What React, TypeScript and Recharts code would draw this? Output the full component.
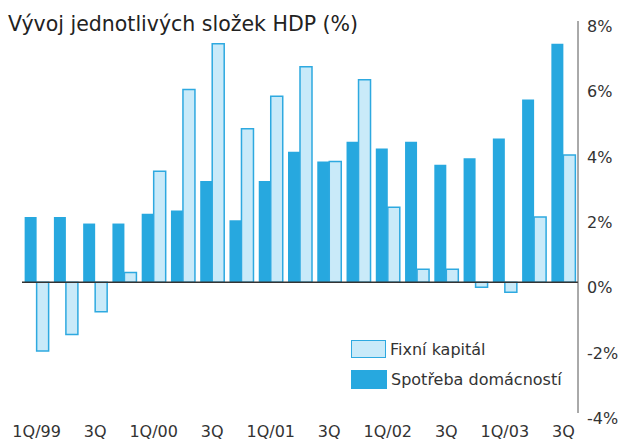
import React from "react";
import { BarChart, Bar, XAxis, YAxis, ReferenceLine, Legend } from "recharts";

const quarters = [
  "1Q/99", "2Q/99", "3Q/99", "4Q/99",
  "1Q/00", "2Q/00", "3Q/00", "4Q/00",
  "1Q/01", "2Q/01", "3Q/01", "4Q/01",
  "1Q/02", "2Q/02", "3Q/02", "4Q/02",
  "1Q/03", "2Q/03", "3Q/03",
];
const quarterLabels = [
  "1Q/99", "", "3Q", "",
  "1Q/00", "", "3Q", "",
  "1Q/01", "", "3Q", "",
  "1Q/02", "", "3Q", "",
  "1Q/03", "", "3Q",
];
const spotrebaDomacnosti = [2.0, 2.0, 1.8, 1.8, 2.1, 2.2, 3.1, 1.9, 3.1, 4.0, 3.7, 4.3, 4.1, 4.3, 3.6, 3.8, 4.4, 5.6, 7.3];
const fixniKapital = [-2.1, -1.6, -0.9, 0.3, 3.4, 5.9, 7.3, 4.7, 5.7, 6.6, 3.7, 6.2, 2.3, 0.4, 0.4, -0.15, -0.3, 2.0, 3.9];
const yTicks = [-4, -2, 0, 2, 4, 6, 8];

const data = quarters.map((q, i) => ({
  q,
  label: quarterLabels[i],
  spotreba: spotrebaDomacnosti[i],
  fixni: fixniKapital[i],
}));

const FONT = "'DejaVu Sans', sans-serif";
const TEXT = "#333333";
const DARK = "#27a8df";
const LIGHT_FILL = "#c9eaf9";
const LIGHT_STROKE = "#2ea9e0";

const XTick = (props: any) => {
  const { x, y, payload } = props;
  const lbl = quarterLabels[quarters.indexOf(payload.value)] ?? "";
  return (
    <text x={x} y={y + 24} textAnchor="middle" fontFamily={FONT} fontSize={16} fill={TEXT}>
      {lbl}
    </text>
  );
};

const YTick = (props: any) => {
  const { x, y, payload } = props;
  return (
    <text x={x + 9} y={y + 11} textAnchor="start" fontFamily={FONT} fontSize={16} fill={TEXT}>
      {`${payload.value}%`}
    </text>
  );
};

const LegendContent = () => (
  <div style={{ fontFamily: FONT, fontSize: 16, color: TEXT }}>
    <div style={{ display: "flex", alignItems: "center", height: 30 }}>
      <div style={{ width: 33, height: 16, background: LIGHT_FILL, border: `1.5px solid ${LIGHT_STROKE}`, marginRight: 4 }} />
      <span>Fixní kapitál</span>
    </div>
    <div style={{ display: "flex", alignItems: "center", height: 30 }}>
      <div style={{ width: 36, height: 19, background: DARK, marginRight: 4 }} />
      <span>Spotřeba domácností</span>
    </div>
  </div>
);

export default function App() {
  return (
    <div style={{ position: "absolute", left: 0, top: 0, width: 620, height: 441, background: "#fff" }}>
      <div
        style={{
          position: "absolute",
          left: 8,
          top: 12,
          fontFamily: FONT,
          fontSize: 20.5,
          lineHeight: "24px",
          color: "#222",
          whiteSpace: "nowrap",
        }}
      >
        Vývoj jednotlivých složek HDP (%)
      </div>
      <BarChart
        width={620}
        height={441}
        data={data}
        margin={{ top: 21, right: 0, bottom: 0, left: 22 }}
        barCategoryGap="9%"
        barGap={0}
      >
        <XAxis
          dataKey="q"
          interval={0}
          axisLine={false}
          tickLine={false}
          tickSize={0}
          tickMargin={0}
          height={28}
          tick={<XTick />}
        />
        <YAxis
          orientation="right"
          width={42}
          domain={[-4, 8]}
          ticks={yTicks}
          axisLine={{ stroke: "#555", strokeWidth: 1 }}
          tickLine={false}
          tickSize={0}
          tickMargin={0}
          tick={<YTick />}
          allowDataOverflow
        />
        <Bar dataKey="spotreba" name="Spotřeba domácností" fill={DARK} isAnimationActive={false} />
        <Bar
          dataKey="fixni"
          name="Fixní kapitál"
          fill={LIGHT_FILL}
          stroke={LIGHT_STROKE}
          strokeWidth={1.5}
          isAnimationActive={false}
        />
        <ReferenceLine y={0} stroke="#333" strokeWidth={1.5} />
        <Legend
          layout="horizontal"
          verticalAlign="middle"
          align="center"
          content={<LegendContent />}
          wrapperStyle={{ position: "absolute", left: 351, top: 334, width: 240, height: 60 }}
        />
      </BarChart>
    </div>
  );
}
